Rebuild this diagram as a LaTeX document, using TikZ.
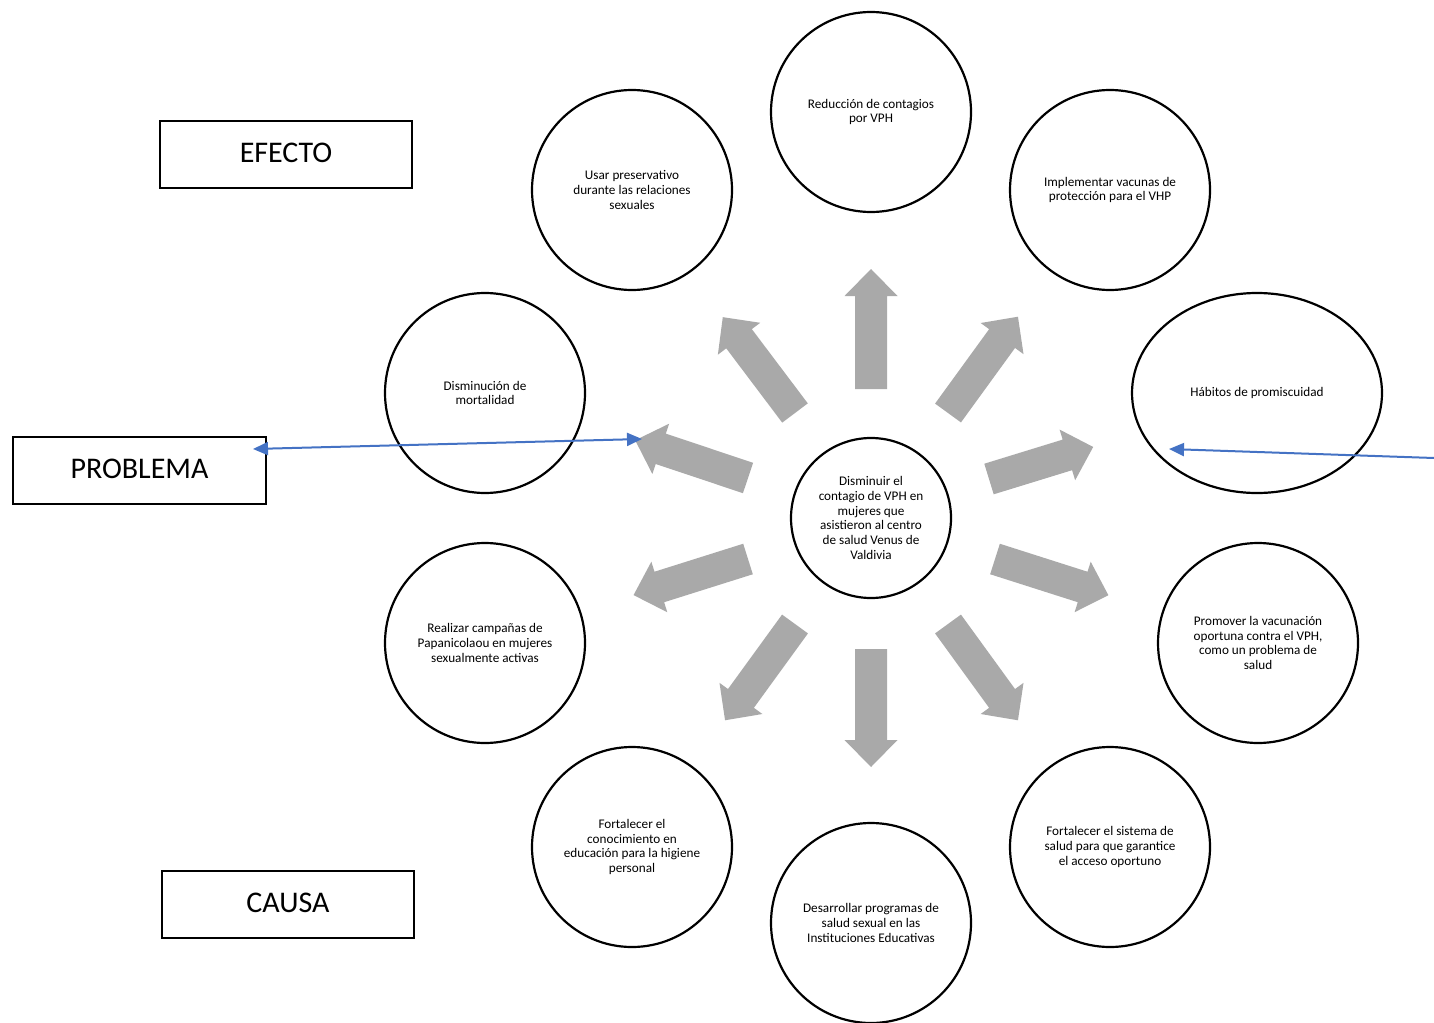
\documentclass[tikz,border=0pt]{standalone}
\usepackage{fontspec}
\setmainfont{Carlito}
\usetikzlibrary{arrows.meta,shapes.geometric}
\definecolor{arrgray}{HTML}{A9A9A9}
\definecolor{linkblue}{HTML}{4472C4}
\tikzset{
  circ/.style={draw, line width=2.2pt, circle, minimum size=200pt, inner sep=0pt,
    font=\fontsize{13.2}{14.7}\selectfont, align=center},
  smallcirc/.style={circ, minimum size=160pt},
  ovalnode/.style={draw, line width=2.2pt, ellipse, minimum width=250pt, minimum height=200pt,
    inner sep=0pt, font=\fontsize{13.2}{14.7}\selectfont, align=center},
  labelbox/.style={draw, line width=2pt, rectangle, minimum width=252pt, minimum height=67pt,
    inner sep=0pt, font=\fontsize{30}{34}\selectfont},
  blockarrow/.style={fill=arrgray, draw=none},
  bluelink/.style={draw=linkblue, line width=2pt}
}
\begin{document}
\begin{tikzpicture}[x=1pt,y=-1pt]
\useasboundingbox[fill=white] (0,0) rectangle (1434,1022);

% gray block arrows (tail x / tail y / screen angle / length)
\foreach \tx/\ty/\ang/\len in {871/389/-90/120, 871/649/90/118, 795/413/-127/120, 948/413/-54/119,
  748/478/-161.5/119, 989/479/-17.1/109, 748/559/162.5/120, 995/559/17.7/119,
  795/624/126/119, 948/624/54/119}{
  \begin{scope}[shift={(\tx,\ty)}, rotate={-\ang}]
    \fill[blockarrow] (0,-16) -- ({\len-27},-16) -- ({\len-27},-26.5) -- (\len,0)
      -- ({\len-27},26.5) -- ({\len-27},16) -- (0,16) -- cycle;
  \end{scope}
}

% circles
\node[smallcirc] (center) at (871,518) {Disminuir el\\contagio de VPH en\\mujeres que\\asistieron al centro\\de salud Venus de\\Valdivia};
\node[circ] (reduccion) at (871,112) {Reducción de contagios\\por VPH};
\node[circ] (usar) at (632,190) {Usar preservativo\\durante las relaciones\\sexuales};
\node[circ] (implementar) at (1110,190) {Implementar vacunas de\\protección para el VHP};
\node[circ] (disminucion) at (485,393) {Disminución de\\mortalidad};
\node[ovalnode] (habitos) at (1257,393) {Hábitos de promiscuidad};
\node[circ] (realizar) at (485,643) {Realizar campañas de\\Papanicolaou en mujeres\\sexualmente activas};
\node[circ] (promover) at (1258,643) {Promover la vacunación\\oportuna contra el VPH,\\como un problema de\\salud};
\node[circ] (conocimiento) at (632,847) {Fortalecer el\\conocimiento en\\educación para la higiene\\personal};
\node[circ] (sistema) at (1110,847) {Fortalecer el sistema de\\salud para que garantice\\el acceso oportuno};
\node[circ] (desarrollar) at (871,923) {Desarrollar programas de\\salud sexual en las\\Instituciones Educativas};

% label boxes
\node[labelbox] (efecto) at (286,154.5) {\raisebox{3pt}{EFECTO}};
\node[labelbox, minimum width=253pt] (problema) at (139.5,470.5) {\raisebox{3pt}{PROBLEMA}};
\node[labelbox] (causa) at (288,904.5) {\raisebox{3pt}{CAUSA}};

% blue connectors
\coordinate (probtip) at (253,449);
\coordinate (arrowtip) at (642,439);
\coordinate (rightedge) at (1434,458);
\coordinate (habtip) at (1169,449);
\draw[bluelink, {Triangle[length=15pt,width=13pt]}-{Triangle[length=15pt,width=13pt]}] (probtip) -- (arrowtip);
\draw[bluelink, -{Triangle[length=15pt,width=13pt]}] (rightedge) -- (habtip);
\end{tikzpicture}
\end{document}
